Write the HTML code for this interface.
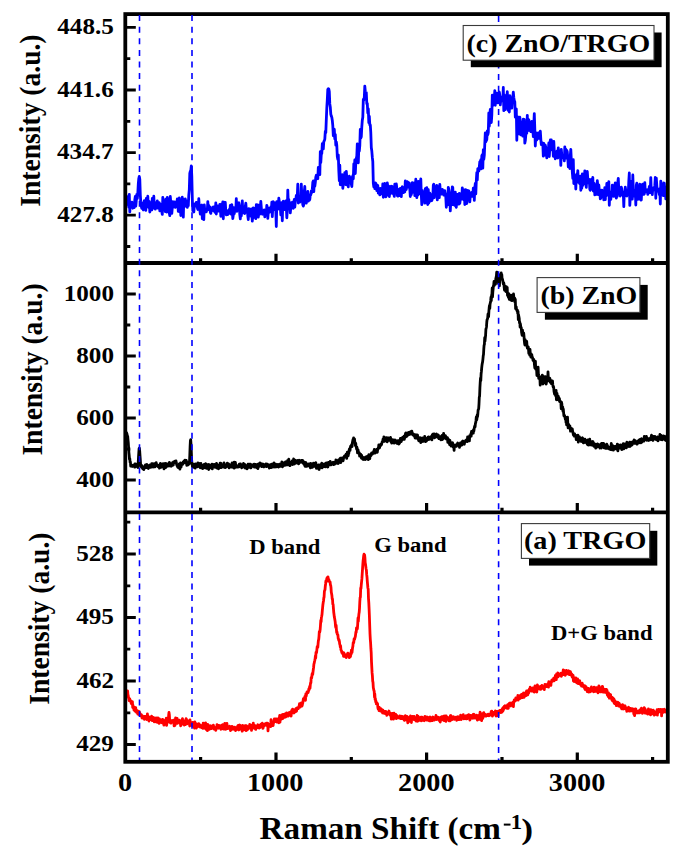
<!DOCTYPE html>
<html><head><meta charset="utf-8"><style>
html,body{margin:0;padding:0;background:#fff;}
svg{display:block;}
text{font-family:"Liberation Serif",serif;font-weight:bold;fill:#000;}
</style></head><body>
<svg width="685" height="853" viewBox="0 0 685 853">
<rect width="685" height="853" fill="#fff"/>
<defs>
<clipPath id="cc"><rect x="125.3" y="14.1" width="542.5" height="248.9"/></clipPath>
<clipPath id="cb"><rect x="125.3" y="263.0" width="542.5" height="249.39999999999998"/></clipPath>
<clipPath id="ca"><rect x="125.3" y="512.4" width="542.5" height="249.39999999999998"/></clipPath>
</defs>

<path clip-path="url(#cc)" d="M124.8 192.7L125.3 201.6L125.8 203.0L126.3 195.9L126.8 198.2L127.3 198.1L127.8 204.6L128.3 202.3L128.8 207.0L129.3 194.4L129.8 211.9L130.3 203.5L130.8 207.4L131.3 203.3L131.8 202.1L132.3 206.3L132.8 208.2L133.3 203.0L133.8 203.2L134.3 207.5L134.8 199.6L135.3 196.4L135.8 206.0L136.3 200.6L136.8 194.3L137.3 198.5L137.8 193.3L138.3 183.7L138.8 178.5L139.3 176.4L139.8 179.2L140.3 195.1L140.8 201.9L141.3 206.3L141.8 208.3L142.3 203.2L142.8 207.5L143.3 210.0L143.8 203.8L144.3 200.7L144.8 206.6L145.3 206.1L145.8 210.4L146.3 198.4L146.8 201.6L147.3 200.7L147.8 196.2L148.3 205.6L148.8 207.6L149.3 201.3L149.8 212.0L150.3 209.1L150.8 208.2L151.3 207.1L151.8 209.9L152.3 198.4L152.8 208.2L153.3 208.1L153.8 196.2L154.3 206.9L154.8 203.9L155.3 209.1L155.8 203.0L156.3 205.1L156.8 206.9L157.3 200.8L157.8 208.2L158.3 204.7L158.8 207.7L159.3 202.6L159.8 210.8L160.3 208.3L160.8 204.4L161.3 208.5L161.8 211.7L162.3 214.4L162.8 197.4L163.3 209.8L163.8 207.7L164.3 204.9L164.8 200.3L165.3 211.7L165.8 199.1L166.3 208.3L166.8 212.0L167.3 197.4L167.8 203.9L168.3 198.9L168.8 206.7L169.3 213.1L169.8 215.7L170.3 196.5L170.8 202.6L171.3 209.0L171.8 213.4L172.3 207.6L172.8 201.7L173.3 207.0L173.8 205.4L174.3 204.5L174.8 201.8L175.3 207.4L175.8 207.0L176.3 205.0L176.8 204.3L177.3 199.0L177.8 202.9L178.3 211.4L178.8 204.3L179.3 198.0L179.8 211.9L180.3 207.7L180.8 215.5L181.3 205.1L181.8 202.3L182.3 197.2L182.8 211.0L183.3 217.1L183.8 199.8L184.3 200.4L184.8 206.4L185.3 199.0L185.8 201.5L186.3 200.8L186.8 203.2L187.3 207.3L187.8 201.5L188.3 205.6L188.8 194.8L189.3 189.6L189.8 173.4L190.3 171.2L190.8 170.4L191.3 165.9L191.8 176.2L192.3 198.3L192.8 210.7L193.3 210.0L193.8 212.0L194.3 206.6L194.8 203.9L195.3 203.9L195.8 205.3L196.3 202.3L196.8 205.3L197.3 207.7L197.8 209.5L198.3 206.6L198.8 198.7L199.3 208.1L199.8 209.6L200.3 214.0L200.8 211.5L201.3 205.4L201.8 205.0L202.3 218.8L202.8 212.6L203.3 218.0L203.8 219.6L204.3 204.8L204.8 210.9L205.3 211.3L205.8 211.8L206.3 211.8L206.8 210.1L207.3 210.0L207.8 201.6L208.3 208.3L208.8 205.4L209.3 209.9L209.8 206.9L210.3 212.4L210.8 213.4L211.3 210.9L211.8 210.9L212.3 209.8L212.8 207.1L213.3 208.6L213.8 206.9L214.3 211.4L214.8 209.5L215.3 212.4L215.8 202.8L216.3 214.0L216.8 205.7L217.3 205.9L217.8 208.6L218.3 206.8L218.8 211.1L219.3 206.7L219.8 204.3L220.3 205.4L220.8 216.3L221.3 209.9L221.8 203.8L222.3 209.8L222.8 201.9L223.3 218.8L223.8 202.1L224.3 212.2L224.8 212.6L225.3 202.5L225.8 211.4L226.3 214.9L226.8 212.2L227.3 211.2L227.8 214.7L228.3 210.7L228.8 211.6L229.3 209.3L229.8 213.2L230.3 205.3L230.8 214.0L231.3 207.5L231.8 204.6L232.3 211.9L232.8 218.6L233.3 215.0L233.8 207.6L234.3 213.7L234.8 207.9L235.3 209.6L235.8 210.7L236.3 198.6L236.8 211.3L237.3 205.1L237.8 206.8L238.3 202.9L238.8 202.7L239.3 205.7L239.8 214.6L240.3 218.8L240.8 210.3L241.3 216.0L241.8 209.2L242.3 200.9L242.8 211.3L243.3 212.8L243.8 208.4L244.3 212.1L244.8 213.5L245.3 206.3L245.8 203.2L246.3 209.6L246.8 209.7L247.3 209.0L247.8 215.7L248.3 219.5L248.8 208.7L249.3 214.3L249.8 215.6L250.3 214.4L250.8 216.1L251.3 208.9L251.8 214.6L252.3 221.1L252.8 215.0L253.3 207.8L253.8 214.0L254.3 217.3L254.8 212.8L255.3 208.1L255.8 218.7L256.3 204.7L256.8 213.5L257.3 210.9L257.8 205.0L258.3 217.1L258.8 212.7L259.3 205.1L259.8 214.0L260.3 208.8L260.8 201.4L261.3 207.5L261.8 212.3L262.3 214.2L262.8 211.8L263.3 211.2L263.8 213.3L264.3 209.8L264.8 216.8L265.3 211.6L265.8 212.3L266.3 213.5L266.8 205.4L267.3 207.2L267.8 218.4L268.3 212.3L268.8 209.2L269.3 212.3L269.8 208.1L270.3 211.9L270.8 207.0L271.3 211.7L271.8 202.2L272.3 216.7L272.8 207.2L273.3 201.6L273.8 208.2L274.3 207.3L274.8 209.7L275.3 202.9L275.8 210.5L276.3 226.5L276.8 201.6L277.3 209.6L277.8 206.2L278.3 208.5L278.8 198.2L279.3 201.4L279.8 209.3L280.3 206.6L280.8 214.9L281.3 202.9L281.8 207.2L282.3 220.8L282.8 202.1L283.3 201.2L283.8 205.4L284.3 205.2L284.8 209.5L285.3 205.7L285.8 201.0L286.3 205.7L286.8 217.8L287.3 210.7L287.8 190.1L288.3 203.2L288.8 199.3L289.3 206.7L289.8 202.5L290.3 212.9L290.8 207.6L291.3 207.2L291.8 203.5L292.3 202.1L292.8 203.8L293.3 208.3L293.8 204.2L294.3 199.4L294.8 207.2L295.3 201.3L295.8 199.6L296.3 195.5L296.8 196.2L297.3 195.5L297.8 184.2L298.3 203.0L298.8 200.4L299.3 196.2L299.8 202.2L300.3 199.0L300.8 198.5L301.3 184.1L301.8 195.3L302.3 199.2L302.8 204.8L303.3 206.1L303.8 204.3L304.3 191.5L304.8 186.5L305.3 200.7L305.8 198.2L306.3 203.2L306.8 197.9L307.3 199.9L307.8 191.3L308.3 201.2L308.8 196.7L309.3 200.2L309.8 199.4L310.3 194.8L310.8 194.8L311.3 190.9L311.8 192.5L312.3 189.2L312.8 182.3L313.3 180.9L313.8 191.7L314.3 181.6L314.8 186.3L315.3 182.6L315.8 177.1L316.3 175.3L316.8 178.7L317.3 178.3L317.8 178.7L318.3 167.5L318.8 168.7L319.3 168.8L319.8 174.6L320.3 151.6L320.8 162.5L321.3 153.8L321.8 153.5L322.3 143.7L322.8 144.7L323.3 148.9L323.8 141.5L324.3 140.8L324.8 139.1L325.3 131.3L325.8 132.6L326.3 119.7L326.8 108.1L327.3 99.7L327.8 89.3L328.3 88.7L328.8 89.1L329.3 91.6L329.8 103.9L330.3 107.2L330.8 114.2L331.3 116.1L331.8 117.3L332.3 120.5L332.8 125.7L333.3 135.8L333.8 134.6L334.3 129.2L334.8 138.9L335.3 134.4L335.8 145.2L336.3 141.8L336.8 145.5L337.3 156.5L337.8 159.3L338.3 154.9L338.8 170.5L339.3 180.8L339.8 165.2L340.3 184.8L340.8 175.0L341.3 178.2L341.8 181.0L342.3 174.7L342.8 188.3L343.3 183.9L343.8 177.2L344.3 179.2L344.8 172.6L345.3 178.3L345.8 184.7L346.3 171.4L346.8 177.8L347.3 180.7L347.8 185.3L348.3 186.8L348.8 177.7L349.3 176.2L349.8 182.0L350.3 177.7L350.8 177.6L351.3 184.1L351.8 186.6L352.3 178.7L352.8 175.7L353.3 178.7L353.8 163.9L354.3 169.5L354.8 160.0L355.3 173.5L355.8 162.6L356.3 158.5L356.8 156.1L357.3 143.8L357.8 159.3L358.3 162.8L358.8 148.7L359.3 151.1L359.8 145.6L360.3 129.4L360.8 138.1L361.3 136.7L361.8 127.0L362.3 120.2L362.8 117.2L363.3 99.5L363.8 100.2L364.3 97.3L364.8 86.1L365.3 91.5L365.8 92.7L366.3 92.6L366.8 103.8L367.3 103.4L367.8 113.0L368.3 108.7L368.8 122.6L369.3 116.2L369.8 125.0L370.3 124.9L370.8 132.7L371.3 147.5L371.8 151.0L372.3 157.2L372.8 161.7L373.3 183.0L373.8 186.7L374.3 184.0L374.8 188.6L375.3 182.9L375.8 183.3L376.3 184.5L376.8 190.6L377.3 190.5L377.8 185.5L378.3 193.1L378.8 193.4L379.3 190.4L379.8 194.9L380.3 188.3L380.8 189.2L381.3 192.3L381.8 189.8L382.3 194.0L382.8 183.8L383.3 197.3L383.8 186.3L384.3 189.5L384.8 183.4L385.3 193.5L385.8 196.9L386.3 196.0L386.8 194.8L387.3 182.8L387.8 186.8L388.3 188.4L388.8 186.1L389.3 196.5L389.8 191.8L390.3 190.8L390.8 193.4L391.3 186.2L391.8 186.4L392.3 186.6L392.8 193.5L393.3 192.7L393.8 193.9L394.3 196.4L394.8 184.1L395.3 188.0L395.8 191.6L396.3 184.0L396.8 188.0L397.3 195.7L397.8 196.1L398.3 195.9L398.8 190.6L399.3 189.3L399.8 195.7L400.3 188.3L400.8 191.8L401.3 196.7L401.8 188.1L402.3 186.8L402.8 189.7L403.3 192.6L403.8 191.9L404.3 190.1L404.8 192.0L405.3 181.0L405.8 184.5L406.3 189.5L406.8 183.9L407.3 181.7L407.8 182.2L408.3 183.6L408.8 187.2L409.3 182.9L409.8 189.2L410.3 196.5L410.8 187.3L411.3 194.5L411.8 189.6L412.3 182.6L412.8 187.1L413.3 183.5L413.8 192.5L414.3 183.0L414.8 195.7L415.3 192.1L415.8 179.2L416.3 193.5L416.8 197.6L417.3 186.0L417.8 195.1L418.3 181.4L418.8 192.0L419.3 182.7L419.8 193.9L420.3 182.8L420.8 179.0L421.3 194.7L421.8 204.6L422.3 190.4L422.8 198.0L423.3 194.7L423.8 192.8L424.3 197.8L424.8 203.1L425.3 188.7L425.8 197.8L426.3 196.7L426.8 187.7L427.3 202.9L427.8 204.5L428.3 189.7L428.8 203.0L429.3 194.3L429.8 193.0L430.3 201.1L430.8 194.5L431.3 194.7L431.8 200.5L432.3 199.1L432.8 197.0L433.3 185.2L433.8 184.2L434.3 197.7L434.8 187.3L435.3 192.7L435.8 186.5L436.3 190.9L436.8 185.3L437.3 199.9L437.8 186.5L438.3 191.0L438.8 190.7L439.3 197.6L439.8 184.4L440.3 191.4L440.8 190.5L441.3 194.2L441.8 193.9L442.3 189.3L442.8 193.1L443.3 190.4L443.8 195.2L444.3 192.9L444.8 190.7L445.3 194.5L445.8 197.1L446.3 207.3L446.8 194.0L447.3 198.5L447.8 204.8L448.3 187.3L448.8 189.3L449.3 192.2L449.8 197.8L450.3 210.9L450.8 200.7L451.3 205.0L451.8 197.9L452.3 186.8L452.8 187.7L453.3 204.6L453.8 200.5L454.3 193.1L454.8 205.4L455.3 192.1L455.8 205.6L456.3 207.3L456.8 196.1L457.3 194.4L457.8 204.2L458.3 194.4L458.8 204.1L459.3 193.5L459.8 203.3L460.3 199.4L460.8 196.4L461.3 193.7L461.8 199.0L462.3 187.9L462.8 195.7L463.3 194.7L463.8 199.8L464.3 189.8L464.8 204.5L465.3 194.1L465.8 189.7L466.3 202.3L466.8 203.5L467.3 194.0L467.8 190.3L468.3 194.7L468.8 191.0L469.3 192.7L469.8 201.9L470.3 195.8L470.8 194.2L471.3 194.9L471.8 192.4L472.3 196.4L472.8 195.8L473.3 188.1L473.8 189.3L474.3 200.4L474.8 188.2L475.3 183.3L475.8 193.9L476.3 181.0L476.8 172.6L477.3 179.9L477.8 168.5L478.3 168.4L478.8 171.1L479.3 166.9L479.8 161.7L480.3 161.5L480.8 159.8L481.3 168.8L481.8 155.8L482.3 154.7L482.8 168.1L483.3 149.7L483.8 159.3L484.3 155.4L484.8 143.5L485.3 132.9L485.8 141.8L486.3 140.5L486.8 139.5L487.3 130.8L487.8 134.8L488.3 132.4L488.8 113.0L489.3 126.3L489.8 115.9L490.3 109.3L490.8 109.4L491.3 122.5L491.8 115.1L492.3 95.1L492.8 105.6L493.3 102.4L493.8 100.7L494.3 97.6L494.8 90.6L495.3 105.3L495.8 92.8L496.3 96.1L496.8 94.2L497.3 93.2L497.8 102.9L498.3 100.6L498.8 93.6L499.3 92.0L499.8 95.2L500.3 104.9L500.8 99.5L501.3 100.4L501.8 96.9L502.3 97.6L502.8 100.9L503.3 87.5L503.8 110.6L504.3 95.0L504.8 96.7L505.3 109.7L505.8 102.6L506.3 101.8L506.8 97.9L507.3 91.7L507.8 103.6L508.3 110.5L508.8 96.8L509.3 112.0L509.8 95.6L510.3 98.3L510.8 106.7L511.3 103.5L511.8 108.2L512.3 98.9L512.8 97.3L513.3 92.1L513.8 97.4L514.3 100.7L514.8 101.8L515.3 117.2L515.8 114.5L516.3 108.8L516.8 140.3L517.3 119.0L517.8 116.8L518.3 133.9L518.8 133.9L519.3 118.9L519.8 117.1L520.3 120.6L520.8 134.9L521.3 125.6L521.8 122.5L522.3 127.8L522.8 136.2L523.3 119.1L523.8 125.9L524.3 119.4L524.8 143.1L525.3 140.8L525.8 135.1L526.3 128.1L526.8 133.3L527.3 115.3L527.8 130.8L528.3 120.1L528.8 119.8L529.3 123.4L529.8 125.3L530.3 130.9L530.8 131.5L531.3 128.7L531.8 121.3L532.3 132.1L532.8 127.6L533.3 136.6L533.8 124.2L534.3 113.6L534.8 128.8L535.3 146.0L535.8 136.3L536.3 132.8L536.8 140.0L537.3 138.2L537.8 138.4L538.3 132.9L538.8 137.0L539.3 138.2L539.8 133.5L540.3 131.1L540.8 139.1L541.3 144.6L541.8 143.1L542.3 142.7L542.8 143.4L543.3 156.2L543.8 143.3L544.3 148.8L544.8 155.2L545.3 145.2L545.8 147.5L546.3 153.2L546.8 157.9L547.3 150.8L547.8 151.7L548.3 150.5L548.8 143.0L549.3 156.5L549.8 148.5L550.3 140.0L550.8 149.2L551.3 139.9L551.8 144.1L552.3 150.1L552.8 144.7L553.3 156.3L553.8 141.5L554.3 151.6L554.8 153.4L555.3 158.8L555.8 155.8L556.3 152.0L556.8 151.4L557.3 150.8L557.8 158.0L558.3 147.8L558.8 154.9L559.3 151.6L559.8 153.8L560.3 151.1L560.8 165.4L561.3 149.4L561.8 155.0L562.3 155.4L562.8 157.7L563.3 157.1L563.8 157.3L564.3 160.9L564.8 146.8L565.3 156.0L565.8 149.2L566.3 158.1L566.8 150.3L567.3 152.0L567.8 157.8L568.3 166.8L568.8 162.5L569.3 161.4L569.8 168.5L570.3 155.4L570.8 149.4L571.3 159.9L571.8 161.8L572.3 171.8L572.8 178.4L573.3 159.7L573.8 183.5L574.3 179.7L574.8 177.0L575.3 175.7L575.8 189.0L576.3 176.4L576.8 174.0L577.3 178.5L577.8 170.6L578.3 182.2L578.8 179.6L579.3 182.9L579.8 183.8L580.3 176.1L580.8 190.3L581.3 177.1L581.8 188.3L582.3 174.0L582.8 185.5L583.3 178.6L583.8 183.7L584.3 179.8L584.8 170.9L585.3 177.1L585.8 184.1L586.3 187.4L586.8 175.2L587.3 171.5L587.8 178.8L588.3 182.8L588.8 180.4L589.3 179.5L589.8 189.3L590.3 190.2L590.8 189.1L591.3 179.5L591.8 185.6L592.3 184.2L592.8 177.3L593.3 191.0L593.8 186.6L594.3 183.5L594.8 194.9L595.3 191.3L595.8 192.1L596.3 194.4L596.8 191.9L597.3 180.7L597.8 186.2L598.3 194.7L598.8 184.8L599.3 189.8L599.8 192.3L600.3 198.8L600.8 198.3L601.3 196.2L601.8 190.2L602.3 196.8L602.8 194.7L603.3 190.8L603.8 199.8L604.3 194.9L604.8 187.7L605.3 199.6L605.8 190.8L606.3 195.8L606.8 183.5L607.3 192.4L607.8 187.1L608.3 187.0L608.8 181.6L609.3 205.3L609.8 192.0L610.3 194.3L610.8 199.4L611.3 192.3L611.8 196.1L612.3 185.2L612.8 194.4L613.3 190.9L613.8 196.3L614.3 194.5L614.8 185.5L615.3 182.8L615.8 187.8L616.3 198.1L616.8 196.3L617.3 196.2L617.8 182.1L618.3 178.3L618.8 190.4L619.3 192.1L619.8 190.5L620.3 196.1L620.8 193.0L621.3 187.1L621.8 188.8L622.3 194.7L622.8 194.1L623.3 193.2L623.8 206.7L624.3 191.8L624.8 193.9L625.3 187.2L625.8 190.8L626.3 195.8L626.8 196.0L627.3 191.6L627.8 194.7L628.3 192.6L628.8 181.2L629.3 173.0L629.8 205.4L630.3 196.6L630.8 191.3L631.3 181.4L631.8 184.0L632.3 199.2L632.8 175.0L633.3 189.3L633.8 196.1L634.3 191.9L634.8 195.4L635.3 190.2L635.8 205.0L636.3 185.0L636.8 183.1L637.3 192.6L637.8 199.3L638.3 190.7L638.8 197.1L639.3 187.9L639.8 184.1L640.3 199.2L640.8 200.1L641.3 199.9L641.8 188.4L642.3 184.3L642.8 184.2L643.3 189.7L643.8 194.4L644.3 194.0L644.8 182.6L645.3 192.1L645.8 191.1L646.3 191.5L646.8 190.9L647.3 189.8L647.8 194.4L648.3 191.6L648.8 192.0L649.3 186.5L649.8 192.7L650.3 189.5L650.8 177.6L651.3 192.6L651.8 188.0L652.3 194.7L652.8 188.1L653.3 188.2L653.8 189.7L654.3 188.2L654.8 185.4L655.3 177.4L655.8 198.3L656.3 178.2L656.8 185.3L657.3 191.0L657.8 189.3L658.3 190.3L658.8 191.5L659.3 194.4L659.8 188.7L660.3 204.0L660.8 181.1L661.3 188.4L661.8 184.9L662.3 183.9L662.8 188.8L663.3 195.6L663.8 183.0L664.3 183.1L664.8 191.5L665.3 190.6L665.8 198.9L666.3 193.6L666.8 189.0L667.3 185.9L667.8 189.2" fill="none" stroke="#0000ff" stroke-width="2.8" stroke-linejoin="round"/>
<path clip-path="url(#cb)" d="M126.2 432.0L126.5 432.7L126.8 433.4L127.1 434.6L127.4 436.6L127.7 436.4L128.0 439.8L128.3 442.8L128.6 447.7L128.9 452.6L129.2 455.3L129.5 459.5L129.8 458.5L130.1 462.3L130.4 461.9L130.7 466.1L131.0 465.5L131.3 466.0L131.6 465.0L131.9 466.1L132.2 466.4L132.5 465.3L132.8 465.3L133.1 465.8L133.4 465.2L133.7 465.2L134.0 465.6L134.3 465.1L134.6 467.0L134.9 463.9L135.2 467.1L135.5 465.2L135.8 465.3L136.1 464.2L136.4 465.8L136.7 465.7L137.0 466.2L137.3 465.3L137.6 466.1L137.9 467.6L138.2 463.1L138.5 457.4L138.8 452.9L139.1 448.5L139.4 448.1L139.7 451.2L140.0 455.6L140.3 459.7L140.6 464.7L140.9 466.6L141.2 465.7L141.5 466.8L141.8 467.6L142.1 465.7L142.4 468.1L142.7 468.7L143.0 468.0L143.3 468.2L143.6 468.2L143.9 469.7L144.2 467.1L144.5 466.9L144.8 467.7L145.1 465.7L145.4 464.9L145.7 465.8L146.0 467.5L146.3 467.6L146.6 465.0L146.9 464.5L147.2 466.6L147.5 466.8L147.8 466.9L148.1 467.8L148.4 468.5L148.7 467.2L149.0 467.6L149.3 465.3L149.6 465.1L149.9 466.9L150.2 467.3L150.5 467.3L150.8 467.1L151.1 467.2L151.4 467.1L151.7 463.7L152.0 465.0L152.3 466.4L152.6 466.5L152.9 463.7L153.2 467.1L153.5 465.0L153.8 465.2L154.1 465.9L154.4 466.5L154.7 463.6L155.0 466.8L155.3 465.6L155.6 464.5L155.9 465.1L156.2 462.7L156.5 464.7L156.8 465.7L157.1 464.6L157.4 465.1L157.7 465.3L158.0 465.6L158.3 466.8L158.6 465.5L158.9 465.2L159.2 466.2L159.5 468.2L159.8 465.1L160.1 466.2L160.4 463.4L160.7 467.2L161.0 466.4L161.3 467.2L161.6 465.4L161.9 464.1L162.2 466.7L162.5 466.5L162.8 464.4L163.1 463.6L163.4 466.1L163.7 465.3L164.0 468.9L164.3 464.7L164.6 464.8L164.9 465.3L165.2 463.3L165.5 464.3L165.8 467.6L166.1 465.2L166.4 464.6L166.7 463.7L167.0 466.1L167.3 466.2L167.6 465.6L167.9 464.8L168.2 465.7L168.5 465.7L168.8 464.3L169.1 466.0L169.4 462.4L169.7 463.4L170.0 464.7L170.3 464.9L170.6 463.5L170.9 465.4L171.2 466.2L171.5 465.3L171.8 464.9L172.1 465.5L172.4 464.7L172.7 462.5L173.0 463.5L173.3 465.2L173.6 461.8L173.9 463.1L174.2 462.4L174.5 461.6L174.8 461.3L175.1 462.7L175.4 462.9L175.7 463.0L176.0 461.0L176.3 462.9L176.6 464.2L176.9 465.5L177.2 465.7L177.5 466.5L177.8 467.4L178.1 467.5L178.4 465.7L178.7 467.0L179.0 466.1L179.3 463.8L179.6 464.6L179.9 469.2L180.2 464.8L180.5 463.0L180.8 464.7L181.1 467.0L181.4 464.6L181.7 464.7L182.0 463.3L182.3 463.1L182.6 464.4L182.9 463.4L183.2 461.9L183.5 462.8L183.8 462.8L184.1 460.9L184.4 461.4L184.7 461.3L185.0 460.2L185.3 462.8L185.6 461.5L185.9 461.3L186.2 460.4L186.5 461.4L186.8 465.4L187.1 462.3L187.4 464.5L187.7 463.5L188.0 464.6L188.3 464.7L188.6 462.8L188.9 463.4L189.2 463.7L189.5 461.9L189.8 455.2L190.1 446.8L190.4 440.7L190.7 439.7L191.0 444.0L191.3 450.7L191.6 459.0L191.9 463.6L192.2 464.8L192.5 466.9L192.8 464.6L193.1 465.1L193.4 464.1L193.7 465.0L194.0 464.7L194.3 467.6L194.6 466.0L194.9 464.8L195.2 468.1L195.5 463.9L195.8 466.8L196.1 467.0L196.4 466.5L196.7 465.4L197.0 465.6L197.3 465.4L197.6 466.8L197.9 462.8L198.2 465.2L198.5 466.1L198.8 465.1L199.1 463.5L199.4 465.6L199.7 465.0L200.0 467.0L200.3 467.8L200.6 466.1L200.9 463.5L201.2 465.7L201.5 464.8L201.8 466.9L202.1 468.2L202.4 466.4L202.7 468.6L203.0 468.0L203.3 466.9L203.6 464.9L203.9 466.3L204.2 464.3L204.5 467.5L204.8 466.3L205.1 467.9L205.4 466.5L205.7 463.7L206.0 467.0L206.3 467.4L206.6 468.4L206.9 464.9L207.2 465.0L207.5 466.3L207.8 464.8L208.1 464.4L208.4 464.8L208.7 469.5L209.0 465.3L209.3 464.8L209.6 465.6L209.9 466.1L210.2 467.8L210.5 467.4L210.8 467.2L211.1 466.2L211.4 466.3L211.7 465.3L212.0 464.2L212.3 468.8L212.6 465.5L212.9 467.4L213.2 465.7L213.5 466.0L213.8 465.9L214.1 464.3L214.4 466.0L214.7 466.6L215.0 467.2L215.3 466.8L215.6 467.4L215.9 466.5L216.2 466.1L216.5 463.5L216.8 465.4L217.1 468.1L217.4 466.3L217.7 467.1L218.0 465.8L218.3 465.2L218.6 468.8L218.9 466.6L219.2 468.0L219.5 466.8L219.8 465.7L220.1 463.2L220.4 466.2L220.7 464.0L221.0 463.2L221.3 467.7L221.6 467.0L221.9 466.9L222.2 466.1L222.5 466.0L222.8 466.6L223.1 466.3L223.4 466.2L223.7 467.0L224.0 462.9L224.3 467.2L224.6 465.2L224.9 467.2L225.2 467.6L225.5 465.0L225.8 467.1L226.1 467.1L226.4 465.1L226.7 465.3L227.0 466.1L227.3 463.1L227.6 465.4L227.9 466.2L228.2 465.4L228.5 463.9L228.8 465.4L229.1 467.9L229.4 467.7L229.7 465.8L230.0 464.9L230.3 465.9L230.6 466.0L230.9 465.1L231.2 465.5L231.5 466.7L231.8 467.1L232.1 462.8L232.4 467.2L232.7 466.1L233.0 467.4L233.3 465.9L233.6 466.5L233.9 468.1L234.2 462.1L234.5 468.0L234.8 466.2L235.1 463.5L235.4 462.4L235.7 466.3L236.0 464.6L236.3 467.2L236.6 466.2L236.9 465.7L237.2 467.2L237.5 466.1L237.8 466.9L238.1 467.0L238.4 466.3L238.7 466.9L239.0 466.9L239.3 464.1L239.6 465.5L239.9 465.7L240.2 465.4L240.5 463.8L240.8 465.1L241.1 466.3L241.4 466.1L241.7 467.8L242.0 465.1L242.3 465.3L242.6 465.1L242.9 465.4L243.2 465.1L243.5 463.4L243.8 466.3L244.1 467.1L244.4 467.3L244.7 464.4L245.0 465.6L245.3 468.2L245.6 465.7L245.9 466.3L246.2 465.6L246.5 467.1L246.8 467.1L247.1 468.8L247.4 466.5L247.7 466.4L248.0 464.2L248.3 465.3L248.6 464.9L248.9 465.4L249.2 464.1L249.5 467.4L249.8 464.4L250.1 466.1L250.4 464.1L250.7 466.2L251.0 467.9L251.3 464.7L251.6 466.2L251.9 465.7L252.2 466.1L252.5 466.3L252.8 464.9L253.1 465.5L253.4 465.0L253.7 464.7L254.0 464.1L254.3 467.0L254.6 464.8L254.9 466.6L255.2 466.4L255.5 464.4L255.8 467.1L256.1 464.6L256.4 466.5L256.7 467.6L257.0 464.8L257.3 464.5L257.6 464.5L257.9 468.7L258.2 465.2L258.5 464.0L258.8 466.7L259.1 465.4L259.4 465.6L259.7 464.4L260.0 462.8L260.3 464.7L260.6 464.3L260.9 463.5L261.2 464.2L261.5 464.4L261.8 466.7L262.1 466.5L262.4 466.3L262.7 464.9L263.0 464.0L263.3 466.0L263.6 466.2L263.9 466.9L264.2 465.5L264.5 465.4L264.8 466.0L265.1 464.4L265.4 464.5L265.7 466.4L266.0 463.9L266.3 465.4L266.6 466.6L266.9 465.8L267.2 466.1L267.5 464.1L267.8 465.4L268.1 465.2L268.4 466.3L268.7 466.1L269.0 465.6L269.3 468.0L269.6 466.2L269.9 465.1L270.2 464.7L270.5 465.5L270.8 464.8L271.1 467.6L271.4 466.2L271.7 465.1L272.0 464.6L272.3 464.0L272.6 465.1L272.9 467.1L273.2 466.5L273.5 465.3L273.8 465.5L274.1 462.9L274.4 466.3L274.7 465.0L275.0 467.0L275.3 465.0L275.6 464.5L275.9 465.4L276.2 464.3L276.5 466.8L276.8 465.4L277.1 465.5L277.4 465.4L277.7 464.5L278.0 465.6L278.3 465.1L278.6 467.1L278.9 464.9L279.2 465.3L279.5 464.1L279.8 464.2L280.1 464.3L280.4 466.3L280.7 464.7L281.0 465.8L281.3 464.1L281.6 463.9L281.9 461.8L282.2 465.4L282.5 466.9L282.8 463.9L283.1 466.0L283.4 465.2L283.7 463.1L284.0 464.9L284.3 462.7L284.6 463.4L284.9 465.3L285.2 463.8L285.5 461.9L285.8 465.2L286.1 461.8L286.4 462.9L286.7 462.5L287.0 462.6L287.3 461.6L287.6 460.5L287.9 464.9L288.2 461.2L288.5 461.2L288.8 459.1L289.1 462.3L289.4 463.8L289.7 464.0L290.0 465.7L290.3 464.1L290.6 462.7L290.9 462.2L291.2 464.0L291.5 462.1L291.8 462.4L292.1 460.9L292.4 462.3L292.7 464.7L293.0 462.0L293.3 462.7L293.6 459.0L293.9 463.9L294.2 462.6L294.5 464.0L294.8 462.4L295.1 461.0L295.4 460.3L295.7 462.8L296.0 462.1L296.3 460.8L296.6 462.0L296.9 461.3L297.2 463.0L297.5 461.5L297.8 460.5L298.1 461.9L298.4 461.3L298.7 463.9L299.0 461.4L299.3 460.3L299.6 461.9L299.9 461.7L300.2 462.3L300.5 462.3L300.8 460.6L301.1 461.9L301.4 461.8L301.7 460.4L302.0 461.3L302.3 462.5L302.6 460.4L302.9 461.3L303.2 462.4L303.5 463.1L303.8 464.2L304.1 462.0L304.4 464.4L304.7 465.0L305.0 466.3L305.3 463.8L305.6 463.3L305.9 462.5L306.2 465.3L306.5 466.3L306.8 463.8L307.1 465.4L307.4 466.0L307.7 466.1L308.0 464.4L308.3 465.8L308.6 465.0L308.9 463.9L309.2 465.5L309.5 465.7L309.8 464.0L310.1 465.9L310.4 467.9L310.7 463.4L311.0 466.3L311.3 466.6L311.6 465.6L311.9 465.9L312.2 465.2L312.5 467.3L312.8 464.4L313.1 465.4L313.4 463.1L313.7 466.1L314.0 466.2L314.3 463.5L314.6 464.6L314.9 466.4L315.2 465.1L315.5 464.2L315.8 462.6L316.1 466.3L316.4 468.4L316.7 465.3L317.0 466.4L317.3 466.4L317.6 465.8L317.9 466.0L318.2 466.1L318.5 464.8L318.8 469.2L319.1 469.5L319.4 466.3L319.7 468.2L320.0 464.8L320.3 465.6L320.6 467.3L320.9 464.3L321.2 464.1L321.5 466.2L321.8 463.1L322.1 467.9L322.4 466.6L322.7 465.9L323.0 466.4L323.3 464.3L323.6 464.2L323.9 466.5L324.2 466.5L324.5 465.5L324.8 465.2L325.1 464.5L325.4 466.9L325.7 463.1L326.0 463.9L326.3 464.2L326.6 462.9L326.9 463.1L327.2 463.4L327.5 466.0L327.8 467.0L328.1 465.0L328.4 462.4L328.7 463.6L329.0 464.2L329.3 463.9L329.6 463.7L329.9 464.8L330.2 461.5L330.5 463.2L330.8 464.2L331.1 464.7L331.4 464.1L331.7 463.6L332.0 463.4L332.3 462.6L332.6 463.5L332.9 463.0L333.2 462.2L333.5 464.6L333.8 464.5L334.1 462.4L334.4 463.5L334.7 464.2L335.0 462.9L335.3 462.5L335.6 462.9L335.9 460.0L336.2 460.1L336.5 462.5L336.8 462.1L337.1 463.4L337.4 460.8L337.7 462.7L338.0 462.5L338.3 463.5L338.6 459.8L338.9 460.2L339.2 460.9L339.5 460.7L339.8 458.9L340.1 459.3L340.4 458.1L340.7 462.7L341.0 459.4L341.3 459.3L341.6 458.3L341.9 458.9L342.2 459.7L342.5 458.0L342.8 458.2L343.1 460.9L343.4 459.0L343.7 457.9L344.0 456.8L344.3 457.1L344.6 455.9L344.9 457.0L345.2 455.5L345.5 455.1L345.8 455.3L346.1 454.2L346.4 455.5L346.7 458.3L347.0 453.9L347.3 452.2L347.6 455.2L347.9 453.5L348.2 455.8L348.5 453.2L348.8 453.4L349.1 450.6L349.4 448.9L349.7 450.1L350.0 450.5L350.3 447.8L350.6 446.2L350.9 446.6L351.2 445.9L351.5 445.1L351.8 444.4L352.1 446.5L352.4 442.5L352.7 440.9L353.0 439.4L353.3 441.3L353.6 437.9L353.9 441.8L354.2 440.2L354.5 438.9L354.8 442.0L355.1 442.6L355.4 445.5L355.7 443.1L356.0 446.4L356.3 447.0L356.6 449.0L356.9 447.2L357.2 448.5L357.5 452.8L357.8 451.8L358.1 450.0L358.4 453.0L358.7 452.2L359.0 452.9L359.3 452.7L359.6 456.0L359.9 454.5L360.2 455.9L360.5 456.1L360.8 454.4L361.1 455.8L361.4 458.1L361.7 455.4L362.0 458.1L362.3 457.8L362.6 459.0L362.9 459.2L363.2 459.5L363.5 458.5L363.8 458.7L364.1 457.5L364.4 457.6L364.7 459.4L365.0 457.4L365.3 459.5L365.6 459.4L365.9 456.9L366.2 458.6L366.5 456.7L366.8 458.1L367.1 456.6L367.4 457.9L367.7 457.6L368.0 455.9L368.3 459.7L368.6 458.2L368.9 454.6L369.2 456.9L369.5 455.7L369.8 458.6L370.1 455.6L370.4 455.9L370.7 454.8L371.0 455.6L371.3 453.8L371.6 453.0L371.9 453.2L372.2 453.0L372.5 454.1L372.8 453.2L373.1 452.3L373.4 452.1L373.7 451.2L374.0 452.4L374.3 449.4L374.6 451.5L374.9 453.2L375.2 450.9L375.5 450.4L375.8 451.1L376.1 449.6L376.4 449.6L376.7 451.2L377.0 449.2L377.3 452.3L377.6 450.1L377.9 449.0L378.2 447.9L378.5 447.9L378.8 444.9L379.1 447.7L379.4 448.0L379.7 447.1L380.0 445.3L380.3 446.1L380.6 445.6L380.9 444.1L381.2 444.3L381.5 444.7L381.8 443.5L382.1 442.0L382.4 442.1L382.7 441.8L383.0 439.1L383.3 440.9L383.6 440.1L383.9 437.0L384.2 437.2L384.5 441.4L384.8 439.0L385.1 440.4L385.4 438.1L385.7 440.6L386.0 439.3L386.3 437.7L386.6 439.0L386.9 440.7L387.2 441.8L387.5 439.4L387.8 438.2L388.1 437.8L388.4 439.8L388.7 440.4L389.0 439.3L389.3 439.0L389.6 440.3L389.9 440.0L390.2 440.0L390.5 437.5L390.8 439.2L391.1 442.2L391.4 439.8L391.7 443.1L392.0 440.5L392.3 439.8L392.6 440.7L392.9 441.3L393.2 439.8L393.5 441.2L393.8 440.6L394.1 443.2L394.4 440.9L394.7 441.9L395.0 440.0L395.3 440.3L395.6 442.1L395.9 441.2L396.2 442.1L396.5 442.9L396.8 443.4L397.1 440.9L397.4 442.4L397.7 443.5L398.0 441.6L398.3 440.6L398.6 441.2L398.9 444.0L399.2 441.6L399.5 443.3L399.8 440.6L400.1 442.2L400.4 438.4L400.7 439.6L401.0 439.7L401.3 441.5L401.6 439.5L401.9 440.0L402.2 437.7L402.5 437.4L402.8 439.3L403.1 439.3L403.4 438.8L403.7 438.5L404.0 436.1L404.3 439.3L404.6 436.6L404.9 437.8L405.2 436.9L405.5 433.5L405.8 433.0L406.1 433.3L406.4 435.1L406.7 436.5L407.0 434.5L407.3 435.8L407.6 432.9L407.9 433.6L408.2 433.1L408.5 434.2L408.8 432.5L409.1 433.7L409.4 434.5L409.7 432.9L410.0 432.3L410.3 432.7L410.6 431.6L410.9 431.8L411.2 434.1L411.5 433.5L411.8 431.1L412.1 432.7L412.4 433.7L412.7 434.4L413.0 434.4L413.3 435.1L413.6 434.1L413.9 434.4L414.2 434.5L414.5 436.6L414.8 436.6L415.1 438.1L415.4 437.6L415.7 435.3L416.0 434.7L416.3 435.0L416.6 435.8L416.9 438.0L417.2 435.6L417.5 435.0L417.8 437.7L418.1 439.2L418.4 439.4L418.7 440.8L419.0 438.8L419.3 438.3L419.6 438.8L419.9 437.6L420.2 438.7L420.5 441.4L420.8 442.6L421.1 441.7L421.4 440.5L421.7 439.9L422.0 440.6L422.3 437.9L422.6 441.1L422.9 441.4L423.2 440.2L423.5 440.3L423.8 438.0L424.1 441.2L424.4 441.1L424.7 436.4L425.0 439.1L425.3 440.2L425.6 441.7L425.9 438.3L426.2 439.2L426.5 441.0L426.8 439.6L427.1 438.5L427.4 438.0L427.7 438.5L428.0 437.3L428.3 439.5L428.6 436.9L428.9 438.6L429.2 439.0L429.5 439.2L429.8 437.6L430.1 437.3L430.4 437.5L430.7 437.0L431.0 438.1L431.3 436.4L431.6 438.8L431.9 439.8L432.2 435.1L432.5 436.3L432.8 434.1L433.1 436.5L433.4 435.9L433.7 435.0L434.0 433.9L434.3 435.2L434.6 437.8L434.9 437.3L435.2 435.8L435.5 434.6L435.8 435.4L436.1 434.5L436.4 434.0L436.7 434.6L437.0 436.8L437.3 436.6L437.6 436.6L437.9 435.1L438.2 434.9L438.5 438.2L438.8 436.6L439.1 438.7L439.4 436.3L439.7 438.6L440.0 437.7L440.3 436.9L440.6 436.9L440.9 439.9L441.2 438.6L441.5 437.0L441.8 437.6L442.1 435.3L442.4 439.5L442.7 439.0L443.0 436.6L443.3 437.7L443.6 433.4L443.9 438.3L444.2 437.6L444.5 437.3L444.8 438.0L445.1 437.3L445.4 435.7L445.7 436.3L446.0 437.2L446.3 438.9L446.6 438.1L446.9 437.5L447.2 439.2L447.5 437.6L447.8 442.3L448.1 440.3L448.4 439.0L448.7 440.8L449.0 442.4L449.3 442.1L449.6 444.5L449.9 440.4L450.2 444.8L450.5 443.1L450.8 444.7L451.1 446.2L451.4 442.8L451.7 442.8L452.0 444.5L452.3 443.1L452.6 442.8L452.9 445.7L453.2 447.1L453.5 445.0L453.8 446.2L454.1 450.4L454.4 446.0L454.7 445.1L455.0 445.2L455.3 446.0L455.6 445.0L455.9 446.2L456.2 445.5L456.5 446.4L456.8 445.3L457.1 444.9L457.4 443.7L457.7 443.0L458.0 444.4L458.3 444.2L458.6 445.0L458.9 444.4L459.2 444.0L459.5 447.3L459.8 444.7L460.1 445.8L460.4 442.8L460.7 445.3L461.0 445.4L461.3 444.4L461.6 442.5L461.9 445.2L462.2 442.5L462.5 441.3L462.8 441.0L463.1 443.1L463.4 442.2L463.7 443.8L464.0 443.4L464.3 444.2L464.6 442.7L464.9 442.2L465.2 441.9L465.5 440.6L465.8 440.4L466.1 440.3L466.4 441.3L466.7 439.7L467.0 440.4L467.3 441.7L467.6 436.9L467.9 438.6L468.2 438.1L468.5 439.1L468.8 436.8L469.1 437.5L469.4 440.9L469.7 435.6L470.0 436.8L470.3 436.7L470.6 435.5L470.9 433.7L471.2 436.1L471.5 431.5L471.8 432.2L472.1 432.6L472.4 431.4L472.7 433.4L473.0 430.6L473.3 433.1L473.6 429.6L473.9 431.2L474.2 428.7L474.5 426.8L474.8 425.8L475.1 426.9L475.4 423.3L475.7 422.9L476.0 420.4L476.3 417.0L476.6 420.0L476.9 419.1L477.2 415.0L477.5 416.8L477.8 414.4L478.1 410.1L478.4 409.7L478.7 408.6L479.0 403.9L479.3 397.0L479.6 396.3L479.9 388.0L480.2 382.6L480.5 378.1L480.8 380.6L481.1 374.0L481.4 371.4L481.7 367.9L482.0 365.1L482.3 363.2L482.6 361.9L482.9 359.3L483.2 356.1L483.5 354.6L483.8 348.9L484.1 345.1L484.4 344.5L484.7 337.7L485.0 341.1L485.3 337.9L485.6 335.3L485.9 329.3L486.2 328.1L486.5 326.7L486.8 322.0L487.1 319.5L487.4 319.2L487.7 317.9L488.0 314.0L488.3 315.9L488.6 316.7L488.9 311.1L489.2 307.5L489.5 305.5L489.8 308.3L490.1 303.6L490.4 302.8L490.7 300.4L491.0 297.1L491.3 300.6L491.6 295.1L491.9 294.7L492.2 288.0L492.5 296.9L492.8 292.3L493.1 289.0L493.4 286.1L493.7 285.3L494.0 281.5L494.3 285.5L494.6 281.1L494.9 283.0L495.2 281.8L495.5 284.1L495.8 278.7L496.1 277.3L496.4 276.2L496.7 272.2L497.0 272.1L497.3 273.1L497.6 275.9L497.9 277.1L498.2 277.5L498.5 283.7L498.8 281.8L499.1 279.4L499.4 285.9L499.7 280.9L500.0 278.0L500.3 274.3L500.6 274.3L500.9 277.9L501.2 273.0L501.5 278.6L501.8 274.7L502.1 279.2L502.4 278.9L502.7 280.1L503.0 282.3L503.3 284.1L503.6 282.7L503.9 283.3L504.2 287.6L504.5 290.1L504.8 288.0L505.1 288.1L505.4 286.2L505.7 291.3L506.0 291.5L506.3 286.7L506.6 290.0L506.9 289.5L507.2 287.4L507.5 295.4L507.8 295.1L508.1 293.9L508.4 297.3L508.7 293.6L509.0 296.2L509.3 299.3L509.6 296.0L509.9 297.8L510.2 295.1L510.5 298.9L510.8 300.1L511.1 295.1L511.4 295.5L511.7 297.2L512.0 300.7L512.3 296.2L512.6 295.4L512.9 297.1L513.2 300.0L513.5 293.8L513.8 296.9L514.1 300.5L514.4 297.8L514.7 298.3L515.0 302.4L515.3 299.2L515.6 308.7L515.9 306.9L516.2 306.7L516.5 309.3L516.8 310.3L517.1 311.0L517.4 310.0L517.7 313.5L518.0 311.3L518.3 319.7L518.6 315.0L518.9 317.1L519.2 318.2L519.5 322.9L519.8 322.0L520.1 327.1L520.4 323.9L520.7 326.6L521.0 327.4L521.3 328.0L521.6 332.6L521.9 334.1L522.2 335.4L522.5 330.2L522.8 335.3L523.1 332.8L523.4 333.7L523.7 333.1L524.0 336.1L524.3 340.6L524.6 343.4L524.9 345.0L525.2 339.7L525.5 341.1L525.8 343.9L526.1 344.5L526.4 345.3L526.7 341.4L527.0 345.7L527.3 348.1L527.6 348.0L527.9 347.6L528.2 346.8L528.5 348.8L528.8 353.3L529.1 351.3L529.4 353.1L529.7 355.1L530.0 349.3L530.3 354.1L530.6 354.2L530.9 357.0L531.2 354.0L531.5 354.9L531.8 354.7L532.1 357.5L532.4 357.2L532.7 358.4L533.0 360.4L533.3 359.6L533.6 359.1L533.9 361.3L534.2 361.8L534.5 365.1L534.8 367.9L535.1 365.1L535.4 361.1L535.7 369.2L536.0 368.5L536.3 367.4L536.6 369.8L536.9 375.5L537.2 368.5L537.5 370.1L537.8 373.5L538.1 367.2L538.4 374.2L538.7 378.3L539.0 378.1L539.3 378.3L539.6 377.2L539.9 378.1L540.2 385.2L540.5 379.6L540.8 382.4L541.1 376.6L541.4 380.3L541.7 380.8L542.0 380.5L542.3 375.2L542.6 379.5L542.9 384.0L543.2 382.0L543.5 379.0L543.8 382.9L544.1 376.6L544.4 382.4L544.7 381.8L545.0 379.5L545.3 378.4L545.6 376.7L545.9 379.9L546.2 384.1L546.5 381.8L546.8 380.5L547.1 381.4L547.4 377.6L547.7 380.1L548.0 371.9L548.3 377.5L548.6 377.6L548.9 378.7L549.2 378.7L549.5 380.7L549.8 378.1L550.1 382.1L550.4 379.7L550.7 382.7L551.0 381.4L551.3 383.5L551.6 383.1L551.9 381.1L552.2 383.6L552.5 380.9L552.8 384.9L553.1 386.7L553.4 386.2L553.7 387.5L554.0 391.2L554.3 392.8L554.6 394.3L554.9 390.5L555.2 391.6L555.5 395.2L555.8 396.1L556.1 390.3L556.4 399.8L556.7 398.5L557.0 393.4L557.3 399.6L557.6 396.4L557.9 397.7L558.2 396.2L558.5 397.2L558.8 398.9L559.1 400.6L559.4 398.5L559.7 401.5L560.0 400.7L560.3 401.8L560.6 401.6L560.9 402.9L561.2 408.8L561.5 402.2L561.8 403.6L562.1 407.3L562.4 407.2L562.7 406.9L563.0 411.3L563.3 409.0L563.6 412.7L563.9 415.9L564.2 416.1L564.5 415.3L564.8 416.8L565.1 417.9L565.4 419.6L565.7 417.1L566.0 422.4L566.3 422.0L566.6 424.9L566.9 423.5L567.2 424.5L567.5 417.1L567.8 422.7L568.1 427.9L568.4 425.5L568.7 424.4L569.0 427.2L569.3 426.6L569.6 427.7L569.9 426.0L570.2 428.9L570.5 431.2L570.8 429.3L571.1 430.1L571.4 428.5L571.7 431.2L572.0 430.1L572.3 428.9L572.6 431.2L572.9 432.1L573.2 434.0L573.5 435.3L573.8 433.8L574.1 434.0L574.4 436.2L574.7 434.0L575.0 435.3L575.3 435.8L575.6 436.2L575.9 435.8L576.2 439.6L576.5 438.7L576.8 437.1L577.1 435.4L577.4 437.0L577.7 438.9L578.0 435.2L578.3 442.1L578.6 438.4L578.9 438.6L579.2 439.7L579.5 436.9L579.8 439.2L580.1 439.2L580.4 440.4L580.7 438.1L581.0 440.6L581.3 441.5L581.6 440.4L581.9 439.3L582.2 439.0L582.5 437.8L582.8 439.7L583.1 441.3L583.4 442.9L583.7 442.3L584.0 442.7L584.3 440.4L584.6 440.6L584.9 439.1L585.2 440.5L585.5 439.9L585.8 441.3L586.1 442.7L586.4 441.7L586.7 441.5L587.0 443.1L587.3 444.3L587.6 443.8L587.9 439.9L588.2 445.0L588.5 441.9L588.8 440.6L589.1 442.2L589.4 444.3L589.7 439.1L590.0 444.9L590.3 443.4L590.6 444.0L590.9 441.3L591.2 442.6L591.5 441.8L591.8 445.2L592.1 442.5L592.4 444.3L592.7 442.9L593.0 441.5L593.3 445.3L593.6 445.8L593.9 446.3L594.2 443.5L594.5 444.5L594.8 445.5L595.1 445.1L595.4 445.0L595.7 448.1L596.0 444.3L596.3 446.2L596.6 444.3L596.9 447.2L597.2 444.9L597.5 443.9L597.8 446.5L598.1 445.5L598.4 444.9L598.7 445.2L599.0 444.7L599.3 446.4L599.6 446.1L599.9 448.1L600.2 444.8L600.5 447.8L600.8 446.6L601.1 443.8L601.4 448.0L601.7 443.3L602.0 446.7L602.3 443.3L602.6 446.4L602.9 445.5L603.2 445.6L603.5 443.3L603.8 445.0L604.1 447.8L604.4 447.1L604.7 446.1L605.0 446.1L605.3 445.3L605.6 448.4L605.9 446.3L606.2 447.9L606.5 444.3L606.8 444.2L607.1 448.4L607.4 445.3L607.7 446.3L608.0 447.3L608.3 448.0L608.6 447.6L608.9 447.5L609.2 449.1L609.5 447.1L609.8 448.1L610.1 446.9L610.4 447.1L610.7 449.6L611.0 446.6L611.3 443.4L611.6 447.2L611.9 447.4L612.2 449.8L612.5 446.7L612.8 445.6L613.1 447.5L613.4 450.1L613.7 446.9L614.0 449.3L614.3 448.2L614.6 448.5L614.9 446.3L615.2 447.6L615.5 446.4L615.8 447.5L616.1 446.5L616.4 449.1L616.7 446.7L617.0 447.0L617.3 444.1L617.6 445.9L617.9 450.8L618.2 446.6L618.5 444.8L618.8 447.0L619.1 446.7L619.4 446.2L619.7 446.4L620.0 446.1L620.3 448.1L620.6 444.9L620.9 446.9L621.2 447.7L621.5 445.1L621.8 449.6L622.1 446.4L622.4 446.0L622.7 445.3L623.0 447.1L623.3 443.6L623.6 446.7L623.9 448.9L624.2 446.2L624.5 446.8L624.8 444.2L625.1 446.6L625.4 444.2L625.7 444.6L626.0 445.2L626.3 447.9L626.6 444.2L626.9 442.1L627.2 445.0L627.5 445.9L627.8 445.7L628.1 445.0L628.4 446.5L628.7 445.8L629.0 445.6L629.3 443.7L629.6 442.2L629.9 446.5L630.2 442.8L630.5 445.9L630.8 445.6L631.1 442.2L631.4 442.8L631.7 444.3L632.0 445.0L632.3 442.1L632.6 443.0L632.9 441.8L633.2 441.4L633.5 443.2L633.8 442.3L634.1 440.0L634.4 443.4L634.7 442.1L635.0 442.0L635.3 440.6L635.6 443.4L635.9 442.7L636.2 442.6L636.5 442.0L636.8 442.5L637.1 444.2L637.4 442.1L637.7 442.0L638.0 441.0L638.3 442.5L638.6 441.1L638.9 440.3L639.2 442.9L639.5 440.9L639.8 439.8L640.1 440.0L640.4 440.1L640.7 439.2L641.0 442.8L641.3 441.5L641.6 438.6L641.9 442.2L642.2 439.9L642.5 440.7L642.8 439.7L643.1 440.8L643.4 440.7L643.7 441.2L644.0 441.2L644.3 436.3L644.6 439.2L644.9 439.8L645.2 439.4L645.5 437.6L645.8 439.0L646.1 439.2L646.4 436.5L646.7 438.1L647.0 440.3L647.3 438.1L647.6 438.9L647.9 439.1L648.2 439.8L648.5 440.0L648.8 440.4L649.1 439.0L649.4 439.1L649.7 438.6L650.0 439.0L650.3 438.5L650.6 439.7L650.9 439.6L651.2 436.5L651.5 435.2L651.8 439.0L652.1 437.6L652.4 436.1L652.7 439.6L653.0 440.4L653.3 436.5L653.6 436.8L653.9 437.1L654.2 436.9L654.5 437.8L654.8 436.3L655.1 437.8L655.4 437.3L655.7 439.3L656.0 437.6L656.3 439.0L656.6 439.8L656.9 438.4L657.2 438.6L657.5 436.9L657.8 437.6L658.1 440.8L658.4 439.5L658.7 437.6L659.0 436.9L659.3 437.2L659.6 439.0L659.9 434.5L660.2 437.8L660.5 435.5L660.8 439.5L661.1 435.3L661.4 438.7L661.7 437.0L662.0 437.4L662.3 439.8L662.6 437.4L662.9 438.5L663.2 438.1L663.5 435.9L663.8 437.5L664.1 439.0L664.4 438.2L664.7 438.0L665.0 436.7L665.3 440.0L665.6 437.0L665.9 440.5L666.2 438.2L666.5 439.0L666.8 436.0L667.1 438.3L667.4 436.8L667.7 438.4L668.0 440.1" fill="none" stroke="#000" stroke-width="2.8" stroke-linejoin="round"/>
<path clip-path="url(#ca)" d="M127.3 692.3L127.6 690.9L127.9 694.8L128.2 695.3L128.5 697.8L128.8 697.8L129.1 700.7L129.4 699.0L129.7 698.8L130.0 701.0L130.3 701.3L130.6 700.6L130.9 701.3L131.2 703.2L131.5 703.7L131.8 702.4L132.1 703.2L132.4 701.6L132.7 707.4L133.0 705.1L133.3 708.0L133.6 707.1L133.9 709.9L134.2 709.8L134.5 708.5L134.8 710.7L135.1 707.5L135.4 711.3L135.7 707.6L136.0 710.8L136.3 712.3L136.6 711.4L136.9 710.9L137.2 710.6L137.5 711.7L137.8 714.1L138.1 714.1L138.4 712.7L138.7 711.5L139.0 714.6L139.3 711.7L139.6 713.4L139.9 713.3L140.2 715.7L140.5 715.2L140.8 715.8L141.1 715.7L141.4 714.5L141.7 716.5L142.0 718.0L142.3 715.9L142.6 717.1L142.9 716.1L143.2 718.0L143.5 717.6L143.8 718.0L144.1 717.3L144.4 719.4L144.7 716.5L145.0 716.6L145.3 716.4L145.6 718.3L145.9 716.5L146.2 716.6L146.5 718.7L146.8 719.5L147.1 718.7L147.4 713.9L147.7 716.6L148.0 716.5L148.3 716.3L148.6 717.6L148.9 721.0L149.2 717.9L149.5 717.3L149.8 719.6L150.1 718.7L150.4 718.8L150.7 717.7L151.0 718.8L151.3 719.5L151.6 716.1L151.9 716.6L152.2 720.7L152.5 720.4L152.8 718.4L153.1 717.7L153.4 719.0L153.7 717.5L154.0 718.9L154.3 721.9L154.6 719.7L154.9 721.3L155.2 719.3L155.5 720.2L155.8 721.8L156.1 717.8L156.4 719.3L156.7 719.6L157.0 720.3L157.3 722.3L157.6 721.1L157.9 717.8L158.2 719.7L158.5 718.9L158.8 718.9L159.1 723.4L159.4 718.8L159.7 720.8L160.0 719.5L160.3 721.9L160.6 721.2L160.9 721.0L161.2 720.7L161.5 722.6L161.8 719.6L162.1 720.0L162.4 719.5L162.7 723.2L163.0 720.8L163.3 719.8L163.6 720.8L163.9 725.2L164.2 721.3L164.5 722.8L164.8 722.2L165.1 721.5L165.4 720.5L165.7 721.0L166.0 721.0L166.3 718.2L166.6 725.4L166.9 722.9L167.2 721.7L167.5 721.2L167.8 720.5L168.1 722.2L168.4 718.3L168.7 715.0L169.0 712.5L169.3 714.4L169.6 718.8L169.9 719.9L170.2 722.5L170.5 721.6L170.8 723.2L171.1 723.1L171.4 721.6L171.7 720.7L172.0 721.9L172.3 721.6L172.6 720.6L172.9 722.2L173.2 722.1L173.5 720.2L173.8 721.3L174.1 725.9L174.4 722.7L174.7 721.7L175.0 725.3L175.3 720.9L175.6 717.8L175.9 718.7L176.2 719.3L176.5 722.0L176.8 723.1L177.1 718.4L177.4 723.3L177.7 719.8L178.0 722.1L178.3 722.4L178.6 722.4L178.9 721.7L179.2 722.0L179.5 720.1L179.8 722.2L180.1 723.3L180.4 723.2L180.7 725.8L181.0 723.5L181.3 723.0L181.6 724.4L181.9 722.3L182.2 720.0L182.5 718.6L182.8 724.0L183.1 722.9L183.4 723.4L183.7 721.6L184.0 722.7L184.3 725.0L184.6 722.8L184.9 720.6L185.2 721.7L185.5 724.5L185.8 720.8L186.1 718.6L186.4 719.1L186.7 720.6L187.0 723.9L187.3 722.9L187.6 721.7L187.9 720.9L188.2 722.7L188.5 722.7L188.8 722.2L189.1 722.8L189.4 722.1L189.7 726.0L190.0 719.8L190.3 723.7L190.6 722.1L190.9 724.8L191.2 723.5L191.5 724.5L191.8 724.9L192.1 724.6L192.4 725.9L192.7 722.4L193.0 726.1L193.3 724.4L193.6 725.4L193.9 727.3L194.2 726.7L194.5 728.1L194.8 721.8L195.1 723.8L195.4 726.8L195.7 723.7L196.0 725.2L196.3 728.1L196.6 726.9L196.9 724.2L197.2 726.4L197.5 726.7L197.8 725.9L198.1 725.7L198.4 726.1L198.7 723.7L199.0 726.2L199.3 724.6L199.6 726.7L199.9 726.8L200.2 724.9L200.5 727.2L200.8 726.8L201.1 726.3L201.4 727.5L201.7 726.0L202.0 726.1L202.3 726.6L202.6 726.5L202.9 728.3L203.2 723.1L203.5 726.3L203.8 723.7L204.1 726.0L204.4 727.2L204.7 726.9L205.0 728.4L205.3 727.5L205.6 722.9L205.9 725.4L206.2 729.5L206.5 729.5L206.8 727.4L207.1 725.0L207.4 730.6L207.7 724.3L208.0 727.9L208.3 727.4L208.6 727.9L208.9 725.8L209.2 727.0L209.5 729.3L209.8 726.9L210.1 725.6L210.4 727.7L210.7 727.9L211.0 727.6L211.3 726.6L211.6 728.6L211.9 727.6L212.2 726.0L212.5 728.1L212.8 727.7L213.1 728.0L213.4 725.2L213.7 726.6L214.0 728.4L214.3 729.1L214.6 728.2L214.9 727.9L215.2 728.8L215.5 729.1L215.8 730.3L216.1 728.3L216.4 726.8L216.7 728.3L217.0 724.7L217.3 727.6L217.6 726.9L217.9 727.5L218.2 728.2L218.5 727.6L218.8 725.3L219.1 726.9L219.4 726.2L219.7 727.4L220.0 727.9L220.3 725.9L220.6 728.5L220.9 729.3L221.2 726.9L221.5 728.4L221.8 725.1L222.1 726.5L222.4 728.7L222.7 724.6L223.0 726.5L223.3 725.9L223.6 729.0L223.9 729.0L224.2 726.4L224.5 727.5L224.8 723.4L225.1 728.6L225.4 727.9L225.7 729.3L226.0 723.8L226.3 727.9L226.6 726.9L226.9 723.5L227.2 726.4L227.5 727.3L227.8 728.7L228.1 727.8L228.4 726.8L228.7 728.2L229.0 727.4L229.3 726.6L229.6 726.1L229.9 727.9L230.2 727.9L230.5 730.5L230.8 727.0L231.1 730.1L231.4 728.3L231.7 729.5L232.0 726.4L232.3 726.5L232.6 727.4L232.9 729.2L233.2 728.1L233.5 729.0L233.8 728.4L234.1 729.4L234.4 728.2L234.7 727.1L235.0 728.7L235.3 728.0L235.6 730.5L235.9 727.7L236.2 728.1L236.5 727.4L236.8 729.6L237.1 729.2L237.4 728.8L237.7 726.0L238.0 725.6L238.3 728.2L238.6 728.9L238.9 730.0L239.2 725.1L239.5 727.5L239.8 725.2L240.1 726.3L240.4 727.4L240.7 729.1L241.0 726.9L241.3 726.6L241.6 727.2L241.9 729.5L242.2 731.2L242.5 725.3L242.8 727.2L243.1 726.9L243.4 729.3L243.7 728.2L244.0 729.8L244.3 725.9L244.6 727.5L244.9 726.7L245.2 725.8L245.5 727.1L245.8 725.6L246.1 730.6L246.4 727.9L246.7 725.8L247.0 726.4L247.3 729.9L247.6 726.5L247.9 728.3L248.2 728.1L248.5 728.8L248.8 728.1L249.1 726.8L249.4 726.2L249.7 724.5L250.0 727.0L250.3 727.3L250.6 726.5L250.9 726.8L251.2 725.2L251.5 730.3L251.8 726.2L252.1 725.4L252.4 726.0L252.7 726.6L253.0 728.0L253.3 723.2L253.6 727.6L253.9 725.9L254.2 726.5L254.5 728.3L254.8 727.9L255.1 725.7L255.4 726.5L255.7 729.4L256.0 728.6L256.3 727.8L256.6 726.5L256.9 727.9L257.2 727.0L257.5 725.5L257.8 724.8L258.1 727.0L258.4 726.7L258.7 727.9L259.0 725.3L259.3 728.1L259.6 725.4L259.9 727.7L260.2 726.6L260.5 724.9L260.8 724.3L261.1 725.5L261.4 725.2L261.7 726.9L262.0 724.5L262.3 723.2L262.6 725.4L262.9 728.3L263.2 727.8L263.5 724.4L263.8 724.9L264.1 725.7L264.4 724.2L264.7 724.8L265.0 724.7L265.3 723.6L265.6 724.2L265.9 724.3L266.2 725.4L266.5 723.2L266.8 725.1L267.1 723.5L267.4 723.7L267.7 723.2L268.0 730.9L268.3 726.7L268.6 726.8L268.9 725.9L269.2 724.3L269.5 724.7L269.8 725.0L270.1 725.2L270.4 725.3L270.7 726.6L271.0 719.7L271.3 723.2L271.6 724.9L271.9 723.2L272.2 723.3L272.5 725.5L272.8 723.4L273.1 725.5L273.4 722.6L273.7 722.8L274.0 720.6L274.3 718.9L274.6 721.0L274.9 721.5L275.2 720.6L275.5 718.9L275.8 721.6L276.1 720.5L276.4 720.2L276.7 718.8L277.0 722.2L277.3 721.7L277.6 719.7L277.9 718.9L278.2 719.3L278.5 721.3L278.8 722.8L279.1 718.5L279.4 717.7L279.7 715.4L280.0 722.2L280.3 716.2L280.6 719.1L280.9 718.4L281.2 719.5L281.5 716.1L281.8 714.8L282.1 717.4L282.4 717.6L282.7 718.6L283.0 714.3L283.3 716.0L283.6 716.2L283.9 714.4L284.2 716.1L284.5 717.4L284.8 716.0L285.1 713.8L285.4 716.3L285.7 717.0L286.0 716.3L286.3 716.6L286.6 712.8L286.9 715.8L287.2 715.9L287.5 714.2L287.8 714.6L288.1 713.3L288.4 716.2L288.7 713.7L289.0 712.6L289.3 714.1L289.6 713.8L289.9 714.5L290.2 712.1L290.5 712.1L290.8 713.5L291.1 716.1L291.4 713.3L291.7 710.4L292.0 712.5L292.3 710.9L292.6 709.1L292.9 710.6L293.2 710.6L293.5 711.9L293.8 713.0L294.1 712.5L294.4 711.8L294.7 709.7L295.0 710.4L295.3 709.8L295.6 711.8L295.9 708.5L296.2 708.4L296.5 711.2L296.8 709.6L297.1 707.8L297.4 708.4L297.7 708.1L298.0 707.9L298.3 708.6L298.6 707.6L298.9 706.5L299.2 705.7L299.5 703.6L299.8 705.2L300.1 707.2L300.4 705.5L300.7 703.8L301.0 704.1L301.3 702.8L301.6 704.1L301.9 706.2L302.2 705.5L302.5 704.0L302.8 702.9L303.1 700.8L303.4 698.6L303.7 699.9L304.0 698.5L304.3 699.8L304.6 698.1L304.9 696.4L305.2 697.3L305.5 700.3L305.8 694.0L306.1 696.4L306.4 695.1L306.7 693.5L307.0 692.0L307.3 692.7L307.6 692.5L307.9 692.8L308.2 692.2L308.5 691.1L308.8 689.0L309.1 689.8L309.4 687.9L309.7 686.3L310.0 688.3L310.3 684.9L310.6 682.6L310.9 682.7L311.2 677.7L311.5 678.4L311.8 677.2L312.1 674.0L312.4 673.3L312.7 674.5L313.0 671.8L313.3 669.5L313.6 667.4L313.9 664.2L314.2 663.2L314.5 661.4L314.8 660.3L315.1 658.9L315.4 655.9L315.7 657.9L316.0 652.4L316.3 653.0L316.6 652.4L316.9 649.3L317.2 646.7L317.5 646.2L317.8 647.4L318.1 643.6L318.4 640.4L318.7 639.7L319.0 636.5L319.3 631.7L319.6 632.5L319.9 631.3L320.2 629.0L320.5 624.8L320.8 620.4L321.1 621.9L321.4 617.5L321.7 616.3L322.0 614.5L322.3 610.9L322.6 607.9L322.9 604.7L323.2 602.6L323.5 601.0L323.8 598.0L324.1 597.0L324.4 591.3L324.7 590.4L325.0 589.7L325.3 586.2L325.6 584.0L325.9 581.0L326.2 581.6L326.5 581.6L326.8 578.4L327.1 579.6L327.4 577.4L327.7 578.4L328.0 576.9L328.3 579.1L328.6 579.1L328.9 579.6L329.2 581.4L329.5 581.5L329.8 581.8L330.1 582.0L330.4 584.8L330.7 585.4L331.0 587.6L331.3 592.3L331.6 593.7L331.9 595.5L332.2 599.0L332.5 598.9L332.8 604.2L333.1 604.3L333.4 608.2L333.7 612.0L334.0 614.3L334.3 616.9L334.6 618.2L334.9 620.0L335.2 621.9L335.5 625.9L335.8 627.6L336.1 625.2L336.4 629.3L336.7 632.6L337.0 631.9L337.3 634.2L337.6 634.5L337.9 635.0L338.2 638.4L338.5 639.0L338.8 640.6L339.1 639.9L339.4 641.5L339.7 644.1L340.0 644.6L340.3 647.2L340.6 645.9L340.9 649.6L341.2 650.4L341.5 650.7L341.8 652.5L342.1 652.3L342.4 652.9L342.7 653.9L343.0 652.6L343.3 654.9L343.6 656.4L343.9 652.9L344.2 656.3L344.5 654.3L344.8 654.7L345.1 655.3L345.4 655.5L345.7 657.1L346.0 654.8L346.3 657.5L346.6 655.0L346.9 655.6L347.2 655.8L347.5 653.8L347.8 653.1L348.1 654.9L348.4 655.8L348.7 656.1L349.0 654.4L349.3 657.6L349.6 654.9L349.9 654.1L350.2 656.8L350.5 656.5L350.8 652.6L351.1 654.3L351.4 650.1L351.7 650.8L352.0 652.7L352.3 649.8L352.6 647.5L352.9 646.1L353.2 642.6L353.5 643.1L353.8 642.2L354.1 638.9L354.4 639.7L354.7 639.1L355.0 637.5L355.3 636.7L355.6 634.5L355.9 631.9L356.2 632.3L356.5 627.9L356.8 628.2L357.1 629.2L357.4 628.4L357.7 624.3L358.0 618.0L358.3 621.3L358.6 617.6L358.9 613.9L359.2 612.3L359.5 608.5L359.8 602.0L360.1 597.7L360.4 597.1L360.7 588.0L361.0 588.5L361.3 584.5L361.6 581.7L361.9 578.7L362.2 573.8L362.5 569.7L362.8 564.8L363.1 560.9L363.4 558.5L363.7 555.7L364.0 554.2L364.3 554.8L364.6 555.0L364.9 557.6L365.2 562.8L365.5 564.3L365.8 566.6L366.1 569.0L366.4 570.1L366.7 574.7L367.0 577.2L367.3 581.3L367.6 584.7L367.9 588.0L368.2 589.1L368.5 598.6L368.8 602.6L369.1 609.0L369.4 616.3L369.7 625.3L370.0 633.8L370.3 639.3L370.6 642.9L370.9 648.7L371.2 652.7L371.5 661.7L371.8 667.4L372.1 672.9L372.4 675.9L372.7 681.1L373.0 682.3L373.3 687.5L373.6 689.0L373.9 690.5L374.2 691.1L374.5 697.2L374.8 693.8L375.1 699.6L375.4 698.7L375.7 701.9L376.0 701.1L376.3 703.9L376.6 703.3L376.9 702.9L377.2 704.4L377.5 703.5L377.8 706.9L378.1 708.7L378.4 708.3L378.7 708.3L379.0 710.6L379.3 707.3L379.6 710.2L379.9 709.7L380.2 709.3L380.5 711.0L380.8 708.7L381.1 710.4L381.4 711.3L381.7 709.3L382.0 710.8L382.3 712.1L382.6 712.9L382.9 710.2L383.2 713.1L383.5 711.5L383.8 712.2L384.1 711.3L384.4 713.4L384.7 711.3L385.0 712.9L385.3 713.2L385.6 713.8L385.9 711.3L386.2 714.1L386.5 713.1L386.8 715.4L387.1 712.8L387.4 712.6L387.7 713.5L388.0 713.2L388.3 713.6L388.6 712.1L388.9 711.0L389.2 712.0L389.5 713.5L389.8 715.1L390.1 714.1L390.4 713.3L390.7 714.6L391.0 715.1L391.3 719.2L391.6 717.1L391.9 715.6L392.2 713.3L392.5 715.3L392.8 715.2L393.1 716.6L393.4 719.1L393.7 715.9L394.0 713.1L394.3 716.0L394.6 713.8L394.9 717.6L395.2 718.1L395.5 717.0L395.8 714.4L396.1 716.4L396.4 718.6L396.7 715.4L397.0 716.1L397.3 717.4L397.6 717.9L397.9 717.3L398.2 717.8L398.5 717.7L398.8 716.6L399.1 717.4L399.4 718.0L399.7 716.0L400.0 718.0L400.3 718.0L400.6 718.6L400.9 718.5L401.2 716.5L401.5 716.2L401.8 718.6L402.1 718.0L402.4 718.5L402.7 717.5L403.0 716.5L403.3 718.9L403.6 718.3L403.9 719.5L404.2 720.2L404.5 720.3L404.8 720.2L405.1 717.3L405.4 715.6L405.7 717.8L406.0 717.0L406.3 716.8L406.6 719.8L406.9 716.4L407.2 720.2L407.5 720.4L407.8 722.8L408.1 720.3L408.4 721.9L408.7 717.8L409.0 717.8L409.3 720.3L409.6 716.8L409.9 720.5L410.2 718.4L410.5 715.8L410.8 721.6L411.1 717.1L411.4 722.5L411.7 716.6L412.0 717.5L412.3 719.1L412.6 718.8L412.9 716.4L413.2 719.0L413.5 719.1L413.8 719.5L414.1 716.4L414.4 717.9L414.7 718.6L415.0 720.0L415.3 719.0L415.6 718.3L415.9 718.2L416.2 721.0L416.5 717.6L416.8 719.2L417.1 715.5L417.4 721.3L417.7 719.5L418.0 716.2L418.3 719.7L418.6 720.9L418.9 720.0L419.2 718.9L419.5 720.1L419.8 717.7L420.1 718.4L420.4 718.3L420.7 718.9L421.0 717.2L421.3 720.9L421.6 718.6L421.9 717.2L422.2 718.5L422.5 719.3L422.8 718.9L423.1 720.4L423.4 718.3L423.7 717.6L424.0 719.5L424.3 720.7L424.6 717.3L424.9 716.4L425.2 717.8L425.5 718.7L425.8 717.2L426.1 719.0L426.4 717.5L426.7 720.1L427.0 717.0L427.3 717.4L427.6 718.9L427.9 719.8L428.2 720.2L428.5 717.7L428.8 718.8L429.1 719.6L429.4 720.9L429.7 717.4L430.0 716.9L430.3 719.5L430.6 718.4L430.9 720.8L431.2 718.8L431.5 719.3L431.8 717.6L432.1 719.2L432.4 720.6L432.7 718.4L433.0 717.0L433.3 720.1L433.6 718.3L433.9 718.9L434.2 717.7L434.5 720.2L434.8 717.7L435.1 718.0L435.4 718.8L435.7 718.5L436.0 715.4L436.3 719.5L436.6 717.0L436.9 719.2L437.2 718.2L437.5 718.6L437.8 717.7L438.1 717.2L438.4 719.0L438.7 719.1L439.0 720.3L439.3 719.6L439.6 717.7L439.9 720.5L440.2 722.1L440.5 719.8L440.8 718.5L441.1 717.3L441.4 718.9L441.7 716.6L442.0 719.9L442.3 718.2L442.6 717.9L442.9 719.1L443.2 716.9L443.5 716.1L443.8 718.1L444.1 720.5L444.4 717.4L444.7 720.0L445.0 715.9L445.3 718.6L445.6 719.4L445.9 721.3L446.2 716.0L446.5 718.5L446.8 717.3L447.1 719.1L447.4 717.8L447.7 718.8L448.0 717.5L448.3 717.7L448.6 719.2L448.9 720.8L449.2 718.8L449.5 718.7L449.8 717.8L450.1 720.9L450.4 715.6L450.7 715.5L451.0 717.3L451.3 719.1L451.6 719.8L451.9 719.3L452.2 719.5L452.5 718.6L452.8 717.7L453.1 716.8L453.4 719.0L453.7 716.9L454.0 718.9L454.3 719.4L454.6 717.3L454.9 717.6L455.2 717.4L455.5 719.2L455.8 718.4L456.1 717.2L456.4 718.5L456.7 720.4L457.0 718.5L457.3 718.3L457.6 717.5L457.9 716.6L458.2 718.0L458.5 718.1L458.8 717.5L459.1 719.7L459.4 717.6L459.7 717.7L460.0 718.2L460.3 718.7L460.6 715.2L460.9 718.2L461.2 719.7L461.5 716.1L461.8 718.3L462.1 717.0L462.4 716.2L462.7 718.1L463.0 717.5L463.3 714.6L463.6 716.8L463.9 718.8L464.2 716.7L464.5 716.5L464.8 717.0L465.1 716.9L465.4 718.6L465.7 716.2L466.0 715.7L466.3 718.1L466.6 718.9L466.9 718.4L467.2 718.6L467.5 716.4L467.8 715.1L468.1 716.3L468.4 717.3L468.7 714.7L469.0 716.8L469.3 718.1L469.6 716.2L469.9 720.1L470.2 718.3L470.5 715.3L470.8 715.4L471.1 716.0L471.4 718.1L471.7 717.7L472.0 716.2L472.3 717.2L472.6 718.2L472.9 717.7L473.2 714.5L473.5 715.3L473.8 715.5L474.1 714.3L474.4 718.1L474.7 715.8L475.0 715.8L475.3 715.5L475.6 717.1L475.9 717.5L476.2 717.6L476.5 718.4L476.8 715.2L477.1 718.9L477.4 720.2L477.7 715.7L478.0 715.9L478.3 717.3L478.6 718.2L478.9 715.9L479.2 715.1L479.5 719.4L479.8 715.5L480.1 712.1L480.4 716.9L480.7 717.6L481.0 718.6L481.3 718.7L481.6 720.6L481.9 715.1L482.2 714.5L482.5 713.7L482.8 718.4L483.1 715.1L483.4 713.2L483.7 712.6L484.0 715.8L484.3 715.0L484.6 716.0L484.9 714.2L485.2 714.3L485.5 716.1L485.8 715.0L486.1 716.1L486.4 715.0L486.7 714.7L487.0 715.7L487.3 714.6L487.6 715.3L487.9 715.6L488.2 714.1L488.5 714.6L488.8 714.9L489.1 715.7L489.4 715.0L489.7 714.9L490.0 715.2L490.3 714.0L490.6 714.9L490.9 713.2L491.2 711.5L491.5 714.8L491.8 711.1L492.1 713.8L492.4 716.2L492.7 714.9L493.0 712.3L493.3 714.8L493.6 714.0L493.9 712.3L494.2 713.3L494.5 712.6L494.8 712.9L495.1 713.8L495.4 710.9L495.7 714.4L496.0 716.0L496.3 712.7L496.6 711.4L496.9 712.1L497.2 714.5L497.5 711.8L497.8 713.2L498.1 715.7L498.4 711.2L498.7 712.3L499.0 711.1L499.3 711.3L499.6 711.9L499.9 710.4L500.2 712.0L500.5 711.4L500.8 712.6L501.1 711.6L501.4 710.9L501.7 712.3L502.0 709.5L502.3 710.5L502.6 708.3L502.9 711.1L503.2 707.6L503.5 709.9L503.8 707.1L504.1 708.3L504.4 706.1L504.7 706.3L505.0 705.8L505.3 707.7L505.6 707.7L505.9 707.8L506.2 707.1L506.5 706.0L506.8 707.2L507.1 708.3L507.4 705.3L507.7 704.6L508.0 706.4L508.3 708.4L508.6 705.1L508.9 704.6L509.2 703.4L509.5 703.6L509.8 703.1L510.1 702.9L510.4 705.7L510.7 705.9L511.0 703.9L511.3 703.7L511.6 704.6L511.9 703.1L512.2 703.0L512.5 703.5L512.8 702.3L513.1 704.0L513.4 706.7L513.7 701.6L514.0 701.7L514.3 699.8L514.6 700.1L514.9 700.7L515.2 700.9L515.5 699.8L515.8 698.0L516.1 700.2L516.4 698.6L516.7 699.8L517.0 698.7L517.3 698.7L517.6 698.6L517.9 695.4L518.2 700.2L518.5 696.9L518.8 698.7L519.1 698.8L519.4 697.0L519.7 695.7L520.0 698.5L520.3 696.0L520.6 697.2L520.9 697.9L521.2 696.3L521.5 694.3L521.8 695.7L522.1 697.3L522.4 695.2L522.7 697.5L523.0 693.7L523.3 694.4L523.6 693.0L523.9 693.9L524.2 697.3L524.5 695.7L524.8 694.2L525.1 693.4L525.4 695.7L525.7 693.6L526.0 692.0L526.3 695.5L526.6 691.0L526.9 693.0L527.2 693.4L527.5 693.7L527.8 694.9L528.1 693.0L528.4 690.5L528.7 693.1L529.0 691.6L529.3 689.2L529.6 689.2L529.9 689.4L530.2 687.2L530.5 690.9L530.8 690.9L531.1 690.6L531.4 688.5L531.7 689.5L532.0 691.2L532.3 689.8L532.6 688.9L532.9 687.9L533.2 688.8L533.5 690.7L533.8 688.7L534.1 692.0L534.4 692.1L534.7 689.5L535.0 685.9L535.3 687.9L535.6 690.1L535.9 687.3L536.2 687.0L536.5 688.1L536.8 692.0L537.1 687.2L537.4 684.9L537.7 688.2L538.0 688.4L538.3 688.8L538.6 687.8L538.9 688.1L539.2 686.9L539.5 689.0L539.8 687.4L540.1 688.2L540.4 686.3L540.7 689.4L541.0 687.6L541.3 686.6L541.6 687.3L541.9 685.5L542.2 686.2L542.5 688.3L542.8 688.0L543.1 688.3L543.4 688.0L543.7 686.5L544.0 687.0L544.3 689.7L544.6 686.6L544.9 684.4L545.2 686.6L545.5 686.0L545.8 686.3L546.1 686.4L546.4 684.7L546.7 686.7L547.0 685.7L547.3 686.6L547.6 684.4L547.9 683.7L548.2 684.3L548.5 687.1L548.8 681.6L549.1 685.7L549.4 683.7L549.7 685.1L550.0 682.5L550.3 683.4L550.6 683.0L550.9 685.4L551.2 681.7L551.5 682.0L551.8 680.2L552.1 681.5L552.4 679.7L552.7 680.3L553.0 680.8L553.3 680.8L553.6 678.3L553.9 678.0L554.2 680.8L554.5 678.0L554.8 678.7L555.1 677.7L555.4 675.5L555.7 677.5L556.0 677.2L556.3 679.7L556.6 674.0L556.9 675.8L557.2 677.3L557.5 675.4L557.8 672.8L558.1 676.8L558.4 675.9L558.7 674.2L559.0 673.8L559.3 674.1L559.6 675.2L559.9 674.5L560.2 673.6L560.5 674.9L560.8 675.8L561.1 673.2L561.4 676.3L561.7 673.9L562.0 674.6L562.3 674.2L562.6 674.2L562.9 673.7L563.2 670.0L563.5 671.9L563.8 674.5L564.1 671.6L564.4 673.3L564.7 670.7L565.0 672.1L565.3 675.3L565.6 673.3L565.9 671.6L566.2 671.9L566.5 670.3L566.8 673.5L567.1 672.4L567.4 673.8L567.7 673.9L568.0 672.2L568.3 671.2L568.6 670.8L568.9 672.0L569.2 672.6L569.5 674.7L569.8 671.3L570.1 673.6L570.4 671.7L570.7 672.7L571.0 675.0L571.3 675.0L571.6 673.9L571.9 674.1L572.2 677.2L572.5 675.7L572.8 676.0L573.1 675.3L573.4 681.0L573.7 680.3L574.0 678.7L574.3 681.5L574.6 679.2L574.9 678.3L575.2 679.9L575.5 681.5L575.8 678.0L576.1 681.8L576.4 682.0L576.7 682.8L577.0 681.6L577.3 682.8L577.6 678.8L577.9 681.6L578.2 683.5L578.5 683.0L578.8 682.9L579.1 680.9L579.4 682.7L579.7 680.7L580.0 683.1L580.3 684.3L580.6 683.3L580.9 685.1L581.2 684.6L581.5 686.2L581.8 684.7L582.1 683.1L582.4 683.9L582.7 684.9L583.0 686.3L583.3 686.7L583.6 685.7L583.9 687.2L584.2 686.2L584.5 688.4L584.8 685.6L585.1 689.5L585.4 688.4L585.7 687.5L586.0 686.6L586.3 689.2L586.6 687.6L586.9 689.6L587.2 691.5L587.5 689.1L587.8 689.4L588.1 689.9L588.4 688.4L588.7 692.2L589.0 689.1L589.3 690.6L589.6 690.1L589.9 688.8L590.2 691.8L590.5 690.4L590.8 688.9L591.1 688.9L591.4 687.0L591.7 688.3L592.0 691.2L592.3 691.2L592.6 688.5L592.9 690.9L593.2 691.4L593.5 691.1L593.8 691.8L594.1 687.1L594.4 690.3L594.7 688.5L595.0 691.0L595.3 688.9L595.6 690.1L595.9 691.3L596.2 687.6L596.5 689.0L596.8 688.9L597.1 689.9L597.4 687.6L597.7 691.1L598.0 692.8L598.3 689.5L598.6 690.7L598.9 685.9L599.2 688.1L599.5 690.8L599.8 690.3L600.1 690.8L600.4 691.8L600.7 690.0L601.0 689.4L601.3 689.1L601.6 690.0L601.9 686.6L602.2 692.0L602.5 686.5L602.8 687.4L603.1 689.9L603.4 691.2L603.7 690.7L604.0 692.3L604.3 689.6L604.6 689.5L604.9 691.6L605.2 689.4L605.5 691.7L605.8 692.5L606.1 692.6L606.4 689.4L606.7 692.5L607.0 690.2L607.3 694.8L607.6 693.2L607.9 695.7L608.2 696.5L608.5 692.9L608.8 696.6L609.1 696.2L609.4 698.2L609.7 694.4L610.0 694.8L610.3 695.9L610.6 694.7L610.9 698.0L611.2 697.1L611.5 698.8L611.8 699.3L612.1 700.4L612.4 697.5L612.7 700.9L613.0 701.2L613.3 698.9L613.6 699.8L613.9 698.8L614.2 703.1L614.5 703.6L614.8 700.6L615.1 702.0L615.4 703.0L615.7 703.8L616.0 702.9L616.3 705.7L616.6 702.1L616.9 705.1L617.2 704.2L617.5 704.7L617.8 703.5L618.1 702.3L618.4 704.3L618.7 706.1L619.0 704.3L619.3 703.3L619.6 705.7L619.9 706.1L620.2 704.8L620.5 706.3L620.8 707.2L621.1 707.0L621.4 708.2L621.7 708.7L622.0 707.0L622.3 705.9L622.6 704.6L622.9 708.8L623.2 707.9L623.5 709.0L623.8 706.3L624.1 707.8L624.4 706.5L624.7 706.4L625.0 705.7L625.3 707.6L625.6 708.7L625.9 709.3L626.2 708.6L626.5 707.9L626.8 711.4L627.1 710.8L627.4 710.2L627.7 709.0L628.0 710.8L628.3 707.9L628.6 707.3L628.9 710.2L629.2 709.7L629.5 711.2L629.8 708.6L630.1 710.3L630.4 708.5L630.7 709.7L631.0 711.0L631.3 710.4L631.6 709.2L631.9 708.6L632.2 710.3L632.5 709.6L632.8 708.9L633.1 711.3L633.4 709.9L633.7 713.2L634.0 714.5L634.3 713.1L634.6 715.6L634.9 709.6L635.2 708.9L635.5 711.2L635.8 708.8L636.1 711.7L636.4 712.8L636.7 712.6L637.0 712.9L637.3 711.1L637.6 711.4L637.9 711.8L638.2 711.4L638.5 712.8L638.8 710.9L639.1 711.4L639.4 710.4L639.7 712.9L640.0 711.6L640.3 711.7L640.6 710.7L640.9 708.8L641.2 710.8L641.5 708.2L641.8 711.4L642.1 709.6L642.4 713.4L642.7 710.5L643.0 711.3L643.3 710.7L643.6 709.7L643.9 709.1L644.2 707.7L644.5 710.5L644.8 708.4L645.1 713.1L645.4 709.5L645.7 710.6L646.0 711.5L646.3 711.3L646.6 713.3L646.9 711.5L647.2 710.9L647.5 711.5L647.8 714.1L648.1 713.0L648.4 709.0L648.7 711.6L649.0 710.6L649.3 712.1L649.6 713.0L649.9 712.2L650.2 713.1L650.5 714.8L650.8 709.7L651.1 712.3L651.4 712.5L651.7 713.1L652.0 712.6L652.3 713.9L652.6 712.5L652.9 713.2L653.2 710.2L653.5 712.8L653.8 710.8L654.1 713.4L654.4 715.2L654.7 712.4L655.0 713.1L655.3 713.5L655.6 714.4L655.9 713.4L656.2 714.0L656.5 711.3L656.8 711.9L657.1 709.7L657.4 715.1L657.7 709.9L658.0 713.0L658.3 711.7L658.6 711.6L658.9 709.5L659.2 711.1L659.5 711.2L659.8 711.6L660.1 710.4L660.4 711.1L660.7 709.3L661.0 712.4L661.3 709.6L661.6 715.9L661.9 710.0L662.2 709.4L662.5 710.6L662.8 710.1L663.1 712.0L663.4 712.2L663.7 709.4L664.0 709.4L664.3 709.2L664.6 711.1L664.9 711.8L665.2 711.4L665.5 710.2L665.8 710.5L666.1 711.4L666.4 712.3L666.7 710.4L667.0 712.2L667.3 710.0L667.6 710.8L667.9 712.3" fill="none" stroke="#ff0000" stroke-width="2.8" stroke-linejoin="round"/>
<path d="M125.3 27.4H135.8M125.3 90.0H135.8M125.3 152.6H135.8M125.3 215.2H135.8M125.3 58.7H130.3M125.3 121.3H130.3M125.3 183.9H130.3M125.3 246.5H130.3M125.3 294.0H135.8M125.3 356.0H135.8M125.3 418.0H135.8M125.3 480.0H135.8M125.3 325.0H130.3M125.3 387.0H130.3M125.3 449.0H130.3M125.3 554.0H135.8M125.3 617.5H135.8M125.3 681.0H135.8M125.3 744.5H135.8M125.3 522.2H130.3M125.3 585.8H130.3M125.3 649.2H130.3M125.3 712.8H130.3" stroke="#000" stroke-width="2.8" fill="none"/>
<path d="M200.6 263.0V258.3M276.0 263.0V253.7M351.3 263.0V258.3M426.6 263.0V253.7M502.0 263.0V258.3M577.3 263.0V253.7M652.6 263.0V258.3M200.6 512.4V507.7M276.0 512.4V503.1M351.3 512.4V507.7M426.6 512.4V503.1M502.0 512.4V507.7M577.3 512.4V503.1M652.6 512.4V507.7M200.6 761.8V757.1M276.0 761.8V752.5M351.3 761.8V757.1M426.6 761.8V752.5M502.0 761.8V757.1M577.3 761.8V752.5M652.6 761.8V757.1" stroke="#000" stroke-width="3.2" fill="none"/>
<g stroke="#000" stroke-width="3.8" fill="none">
<rect x="125.3" y="14.1" width="542.5" height="747.6999999999999"/>
<line x1="125.3" y1="263.0" x2="667.8" y2="263.0"/>
<line x1="125.3" y1="512.4" x2="667.8" y2="512.4"/>
</g>
<g stroke="#0000ff" stroke-width="1.6" stroke-dasharray="6 5.6" fill="none">
<line x1="139.5" y1="15.1" x2="139.5" y2="760"/>
<line x1="192" y1="15.1" x2="192" y2="760"/>
<line x1="498.6" y1="16.1" x2="498.6" y2="760"/>
</g>
<rect x="470.8" y="32.5" width="190.8" height="34.7" fill="#000"/><rect x="463.2" y="25.5" width="190.8" height="34.7" fill="#fff" stroke="#3a3a3a" stroke-width="1.1"/><rect x="544.9" y="284.9" width="102.8" height="34.8" fill="#000"/><rect x="537.1" y="277.6" width="102.8" height="34.8" fill="#fff" stroke="#3a3a3a" stroke-width="1.1"/><rect x="529.0" y="530.8" width="128.3" height="34.8" fill="#000"/><rect x="521.4" y="523.6" width="128.3" height="34.8" fill="#fff" stroke="#3a3a3a" stroke-width="1.1"/>
<text transform="translate(57.26,34.27) scale(1.08,1)" font-size="23.3">448.5</text><text transform="translate(57.14,96.87) scale(1.08,1)" font-size="23.3">441.6</text><text transform="translate(57.01,159.47) scale(1.08,1)" font-size="23.3">434.7</text><text transform="translate(57.26,222.07) scale(1.08,1)" font-size="23.3">427.8</text><text transform="translate(63.68,300.87) scale(1.08,1)" font-size="23.3">1000</text><text transform="translate(76.26,362.87) scale(1.08,1)" font-size="23.3">800</text><text transform="translate(76.26,424.87) scale(1.08,1)" font-size="23.3">600</text><text transform="translate(76.26,486.87) scale(1.08,1)" font-size="23.3">400</text><text transform="translate(76.13,560.87) scale(1.08,1)" font-size="23.3">528</text><text transform="translate(76.13,624.37) scale(1.08,1)" font-size="23.3">495</text><text transform="translate(76.39,687.87) scale(1.08,1)" font-size="23.3">462</text><text transform="translate(76.13,751.37) scale(1.08,1)" font-size="23.3">429</text><text transform="translate(117.98,791.26) scale(1.083,1)" font-size="26.1">0</text><text transform="translate(246.89,791.26) scale(1.083,1)" font-size="26.1">1000</text><text transform="translate(398.12,791.26) scale(1.083,1)" font-size="26.1">2000</text><text transform="translate(548.79,791.26) scale(1.083,1)" font-size="26.1">3000</text><text transform="translate(466.54,51.80) scale(1.065,1)" font-size="26.2">(c) ZnO/TRGO</text><text transform="translate(540.44,304.00) scale(1.065,1)" font-size="26.2">(b) ZnO</text><text transform="translate(523.93,549.30) scale(1.076,1)" font-size="26.2">(a) TRGO</text><text transform="translate(249.25,553.50) scale(1.078,1)" font-size="21.0">D band</text><text transform="translate(374.17,552.10) scale(1.078,1)" font-size="21.0">G band</text><text transform="translate(550.95,640.10) scale(1.078,1)" font-size="21.0">D+G band</text><text transform="translate(259.60,839.20) scale(1.07,1)" font-size="31.0">Raman Shift (cm</text><text transform="translate(510.69,829.00) scale(1.08,1)" font-size="20.9">1</text><text transform="translate(521.33,839.20) scale(1.2,1)" font-size="29.6">)</text><rect x="503.8" y="823.6" width="6.7" height="2" fill="#000"/><text transform="translate(39.8,206.7) scale(1.043,1) rotate(-90)" font-size="27.58">Intensity (a.u.)</text><text transform="translate(42.3,455.6) scale(1.043,1) rotate(-90)" font-size="27.58">Intensity (a.u.)</text><text transform="translate(49.4,704.8) scale(1.043,1) rotate(-90)" font-size="27.58">Intensity (a.u.)</text>
</svg>
</body></html>
